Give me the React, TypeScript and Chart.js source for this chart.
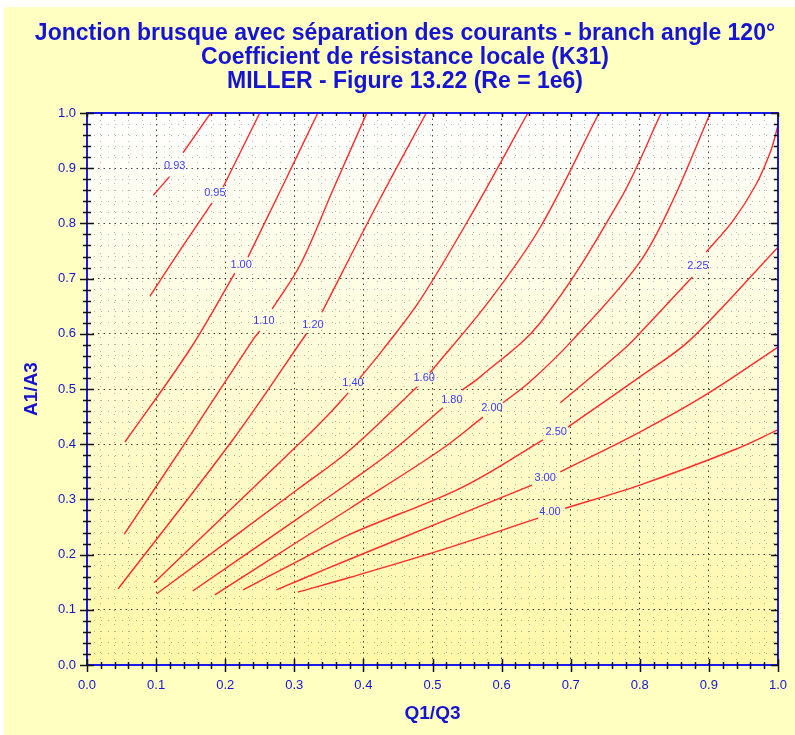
import React, { useEffect, useRef } from 'react';
import { Chart, registerables } from 'chart.js';
Chart.register(...registerables);

type P = [number, number] | null;

const titleLines = [
  'Jonction brusque avec séparation des courants - branch angle 120°',
  'Coefficient de résistance locale (K31)',
  'MILLER - Figure 13.22 (Re = 1e6)',
];
const xTitle = 'Q1/Q3';
const yTitle = 'A1/A3';

const levels = ['0.93', '0.95', '1.00', '1.10', '1.20', '1.40', '1.60', '1.80', '2.00', '2.25', '2.50', '3.00', '4.00'];

const k093: P[] = [[0.096, 0.851], [0.119, 0.884], null, [0.139, 0.928], [0.179, 1.0]];
const k095: P[] = [[0.091, 0.668], [0.135, 0.752], [0.181, 0.837], null, [0.197, 0.866], [0.250, 1.0]];
const k100: P[] = [[0.055, 0.404], [0.149, 0.572], [0.214, 0.710], null, [0.233, 0.739], [0.284, 0.870], [0.334, 1.0]];
const k110: P[] = [[0.054, 0.237], [0.145, 0.408], [0.240, 0.589], [0.250, 0.605], null, [0.268, 0.645], [0.309, 0.726], [0.356, 0.861], [0.405, 1.0]];
const k120: P[] = [[0.045, 0.138], [0.211, 0.408], [0.318, 0.601], null, [0.340, 0.639], [0.423, 0.842], [0.491, 1.0]];
const k140: P[] = [[0.097, 0.149], [0.313, 0.408], [0.352, 0.457], [0.378, 0.493], null, [0.395, 0.520], [0.428, 0.571], [0.482, 0.661], [0.560, 0.824], [0.638, 1.0]];
const k160: P[] = [[0.101, 0.129], [0.308, 0.321], [0.381, 0.390], [0.478, 0.504], null, [0.496, 0.529], [0.583, 0.661], [0.656, 0.793], [0.741, 1.0]];
const k180: P[] = [[0.153, 0.134], [0.308, 0.268], [0.381, 0.332], [0.443, 0.389], [0.515, 0.466], null, [0.543, 0.498], [0.569, 0.522], [0.656, 0.620], [0.771, 0.842], [0.831, 1.0]];
const k200: P[] = [[0.185, 0.127], [0.308, 0.226], [0.381, 0.284], [0.511, 0.389], [0.573, 0.449], null, [0.602, 0.475], [0.641, 0.513], [0.703, 0.589], [0.800, 0.730], [0.848, 0.842], [0.902, 1.0]];
const k225: P[] = [[0.685, 0.475], [0.776, 0.571], [0.800, 0.601], [0.876, 0.703], null, [0.896, 0.748], [0.935, 0.805], [0.968, 0.870], [0.990, 0.933], [1.0, 0.978]];
const k250: P[] = [[0.226, 0.136], [0.308, 0.190], [0.381, 0.237], [0.543, 0.322], [0.660, 0.408], null, [0.696, 0.431], [0.800, 0.522], [0.873, 0.589], [1.0, 0.757]];
const k300: P[] = [[0.274, 0.136], [0.308, 0.154], [0.381, 0.192], [0.512, 0.259], [0.644, 0.326], null, [0.685, 0.350], [0.800, 0.422], [0.900, 0.493], [1.0, 0.576]];
const k400: P[] = [[0.305, 0.132], [0.381, 0.159], [0.517, 0.210], [0.653, 0.266], null, [0.692, 0.284], [0.800, 0.326], [0.935, 0.389], [1.0, 0.426]];

const curves = [k093, k095, k100, k110, k120, k140, k160, k180, k200, k225, k250, k300, k400];

const labelPos: [number, number][] = [
  [0.127, 0.904], [0.185, 0.855], [0.223, 0.725], [0.256, 0.623], [0.327, 0.616], [0.385, 0.511],
  [0.488, 0.520], [0.528, 0.480], [0.586, 0.466], [0.884, 0.723], [0.679, 0.422], [0.663, 0.339], [0.670, 0.277],
];

const FONT = '"Liberation Sans", Arial, sans-serif';
const BLUE = '#1414d2';
const AXIS_BLUE = '#1a1aee';
const LABEL_BLUE = '#3c3cff';
const RED = '#ff2b2b';

const isMajor = (v: number) => Math.abs(v * 10 - Math.round(v * 10)) < 1e-6;

function toData(c: P[]) {
  const out: { x: number; y: number | null }[] = [];
  let lastX = 0;
  for (const p of c) {
    if (p === null) out.push({ x: lastX, y: null });
    else {
      out.push({ x: p[0], y: p[1] });
      lastX = p[0];
    }
  }
  return out;
}

const bgPlugin = {
  id: 'bgPlugin',
  beforeDraw(chart: any) {
    const { ctx, width, height, chartArea } = chart;
    ctx.save();
    ctx.fillStyle = '#ffffff';
    ctx.fillRect(0, 0, width, height);
    ctx.fillStyle = '#ffffc2';
    ctx.fillRect(4, 7, width - 4, height - 7);
    const g = ctx.createLinearGradient(0, chartArea.top, 0, chartArea.bottom);
    g.addColorStop(0, '#ffffff');
    g.addColorStop(1, '#fff8a8');
    ctx.fillStyle = g;
    ctx.fillRect(chartArea.left, chartArea.top, chartArea.right - chartArea.left, chartArea.bottom - chartArea.top);
    // title
    ctx.fillStyle = BLUE;
    ctx.font = 'bold 23px ' + FONT;
    ctx.textAlign = 'center';
    ctx.textBaseline = 'middle';
    titleLines.forEach((t, i) => ctx.fillText(t, 405, 34 + i * 24));
    ctx.restore();
  },
};

const framePlugin = {
  id: 'framePlugin',
  afterDatasetsDraw(chart: any) {
    const { ctx } = chart;
    const xs = chart.scales.x;
    const ys = chart.scales.y;
    const { left, right, top, bottom } = chart.chartArea;
    ctx.save();
    // contour labels
    ctx.font = '11px ' + FONT;
    ctx.fillStyle = LABEL_BLUE;
    ctx.textAlign = 'center';
    ctx.textBaseline = 'middle';
    levels.forEach((t, i) => {
      const [lx, ly] = labelPos[i];
      ctx.fillText(t, xs.getPixelForValue(lx), ys.getPixelForValue(ly));
    });
    // frame
    ctx.strokeStyle = AXIS_BLUE;
    ctx.lineWidth = 2;
    ctx.strokeRect(left, top, right - left, bottom - top);
    // ticks
    ctx.strokeStyle = '#111111';
    ctx.lineWidth = 1.5;
    ctx.beginPath();
    xs.ticks.forEach((t: any) => {
      const px = Math.round(xs.getPixelForValue(t.value)) + 0.5;
      const maj = isMajor(t.value);
      ctx.moveTo(px, bottom - (maj ? 6 : 3));
      ctx.lineTo(px, bottom + (maj ? 7 : 4));
      ctx.moveTo(px, top);
      ctx.lineTo(px, top + (maj ? 4 : 3));
    });
    ys.ticks.forEach((t: any) => {
      const py = Math.round(ys.getPixelForValue(t.value)) + 0.5;
      const maj = isMajor(t.value);
      ctx.moveTo(left - (maj ? 7 : 4), py);
      ctx.lineTo(left + (maj ? 7 : 4), py);
      ctx.moveTo(right - (maj ? 7 : 4), py);
      ctx.lineTo(right, py);
    });
    ctx.stroke();
    ctx.restore();
  },
};

const gridColor = (ctx: any) =>
  ctx.tick && isMajor(ctx.tick.value) ? 'rgba(40,40,40,0.85)' : 'rgba(110,110,110,0.5)';
const gridDash = (ctx: any) => (ctx.tick && isMajor(ctx.tick.value) ? [1.5, 4] : [1, 6]);
const tickLabel = (v: any) => (isMajor(Number(v)) ? Number(v).toFixed(1) : '');

export default function App() {
  const ref = useRef<HTMLCanvasElement | null>(null);
  useEffect(() => {
    if (!ref.current) return;
    const chart = new Chart(ref.current, {
      type: 'line',
      data: {
        datasets: curves.map((c, i) => ({
          label: levels[i],
          data: toData(c),
          borderColor: RED,
          borderWidth: 1.4,
          pointRadius: 0,
          tension: 0.35,
          fill: false,
          spanGaps: false,
        })),
      },
      options: {
        animation: false,
        responsive: false,
        devicePixelRatio: 1,
        events: [],
        layout: { padding: { left: 15, right: 17, top: 113, bottom: 0 } },
        plugins: {
          legend: { display: false },
          tooltip: { enabled: false },
          title: { display: false },
        },
        scales: {
          x: {
            type: 'linear',
            min: 0,
            max: 1,
            afterFit: (s: any) => {
              s.height = 70;
              s.paddingLeft = 0;
              s.paddingRight = 0;
            },
            ticks: {
              stepSize: 0.02,
              autoSkip: false,
              maxRotation: 0,
              padding: 13,
              color: BLUE,
              font: { family: FONT, size: 13 },
              callback: tickLabel,
            },
            grid: { color: gridColor, lineWidth: 1, drawTicks: false },
            border: { display: false, dash: gridDash },
            title: {
              display: true,
              text: xTitle,
              color: BLUE,
              font: { family: FONT, size: 19, weight: 'bold' },
              padding: { top: 0, bottom: 10 },
            },
          },
          y: {
            type: 'linear',
            min: 0,
            max: 1,
            afterFit: (s: any) => {
              s.width = 72;
              s.paddingTop = 0;
              s.paddingBottom = 0;
            },
            ticks: {
              stepSize: 0.02,
              autoSkip: false,
              padding: 11,
              color: BLUE,
              font: { family: FONT, size: 13 },
              callback: tickLabel,
            },
            grid: { color: gridColor, lineWidth: 1, drawTicks: false },
            border: { display: false, dash: gridDash },
            title: {
              display: true,
              text: yTitle,
              color: BLUE,
              font: { family: FONT, size: 19, weight: 'bold' },
              padding: { top: 5, bottom: 0 },
            },
          },
        },
      },
      plugins: [bgPlugin, framePlugin],
    } as any);
    return () => chart.destroy();
  }, []);
  return (
    <canvas
      ref={ref}
      width={795}
      height={735}
      style={{ position: 'absolute', left: 0, top: 0, width: 795, height: 735 }}
    />
  );
}
